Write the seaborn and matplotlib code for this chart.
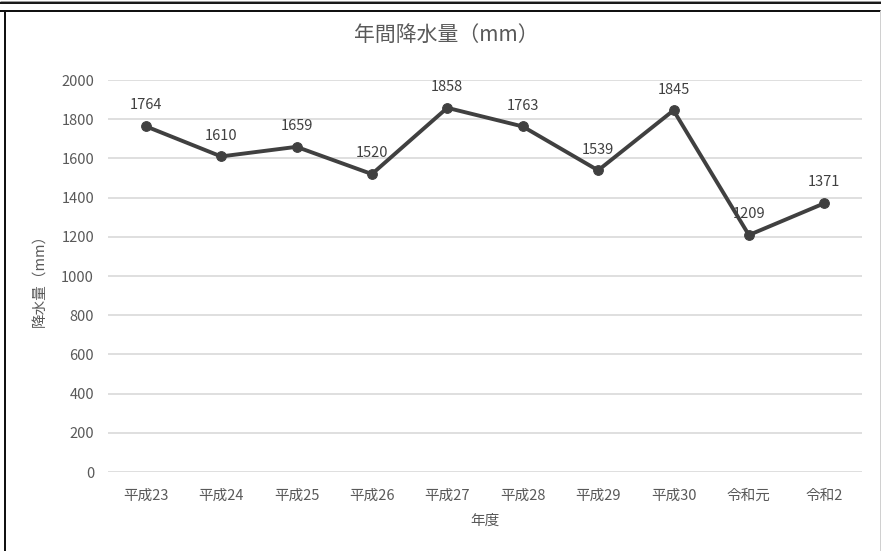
import seaborn as sns
import matplotlib.pyplot as plt
from matplotlib.lines import Line2D

# Annual precipitation data
years = ['平成23', '平成24', '平成25', '平成26', '平成27', '平成28', '平成29', '平成30', '令和元', '令和2']
rain_mm = [1764, 1610, 1659, 1520, 1858, 1763, 1539, 1845, 1209, 1371]
y_ticks = [0, 200, 400, 600, 800, 1000, 1200, 1400, 1600, 1800, 2000]

sns.set_style("white")
plt.rcParams['font.family'] = ['Noto Sans CJK JP', 'DejaVu Sans']

W, H = 881, 551
fig = plt.figure(figsize=(W / 100, H / 100), dpi=100)
ax = fig.add_axes([108 / W, 1 - 472 / H, (862 - 108) / W, (472 - 80) / H])

sns.lineplot(x=years, y=rain_mm, sort=False, ax=ax, color='#404040',
             linewidth=2.8, marker='o', markersize=7,
             markeredgecolor='#404040', markerfacecolor='#404040')

# data labels
for i, v in enumerate(rain_mm):
    ax.annotate(str(v), (i, v), xytext=(0, 15), textcoords='offset points',
                ha='center', va='center', fontsize=10.5, color='#404040')

ax.set_xlim(-0.5, len(years) - 0.5)
ax.set_ylim(0, 2000)
ax.set_yticks(y_ticks)
ax.grid(axis='y', color='#d9d9d9', linewidth=1.2)
ax.grid(axis='x', visible=False)
ax.set_axisbelow(True)
for s in ax.spines.values():
    s.set_visible(False)
ax.tick_params(axis='both', length=0, labelsize=10.5, colors='#595959', pad=10)
ax.tick_params(axis='x', pad=12)
ax.set_xlabel('')
ax.set_ylabel('')

fig.text(446 / W, 1 - 35 / H, '年間降水量（mm）', ha='center', va='center',
         fontsize=15, color='#595959')
fig.text(40 / W, 1 - 277 / H, '降水量（mm）', ha='center', va='center',
         rotation=90, fontsize=10.5, color='#595959')
fig.text(485 / W, 1 - 521 / H, '年度', ha='center', va='center',
         fontsize=10.5, color='#595959')

# screenshot frame lines
def px_line(x0, y0, x1, y1, color, lw):
    fig.add_artist(Line2D([x0 / W, x1 / W], [1 - y0 / H, 1 - y1 / H],
                          transform=fig.transFigure, color=color,
                          linewidth=lw * 0.72, solid_capstyle='butt'))

px_line(0, 0.5, W, 0.5, '#9a9a9a', 1)
px_line(0, 2.5, W, 2.5, '#1a1a1a', 2)
px_line(0, 10.5, W, 10.5, '#111111', 2)
px_line(4.5, 10, 4.5, H, '#111111', 2)
px_line(880, 10, 880, H, '#d0d0d0', 1)

fig.savefig('out.png', dpi=100, facecolor='white')
